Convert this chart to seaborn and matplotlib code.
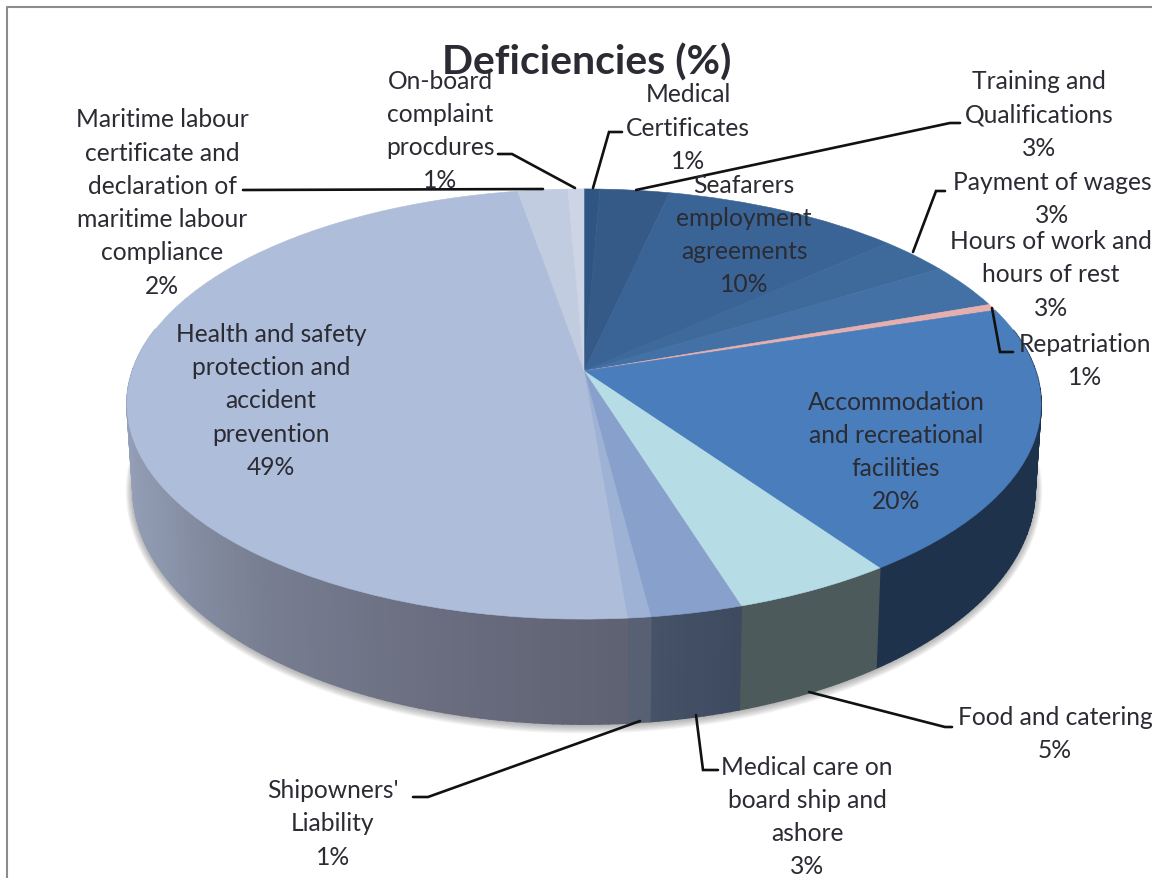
import numpy as np
import seaborn as sns
from matplotlib import pyplot as plt
from matplotlib.path import Path
from matplotlib.transforms import Transform

categories = ["Medical\nCertificates", "Training and\nQualifications",
              "Seafarers\nemployment\nagreements", "Payment of wages",
              "Hours of work and\nhours of rest", "Repatriation",
              "Accommodation\nand recreational\nfacilities", "Food and catering",
              "Medical care on\nboard ship and\nashore", "Shipowners'\nLiability",
              "Health and safety\nprotection and\naccident\nprevention",
              "Maritime labour\ncertificate and\ndeclaration of\nmaritime labour\ncompliance",
              "On-board\ncomplaint\nprocdures"]
values = [0.65, 2.85, 9.8, 2.9, 3.4, 0.5, 20.2, 4.9, 2.8, 0.7, 48.6, 2.05, 0.65]
percent_labels = ["1%", "3%", "10%", "3%", "3%", "1%", "20%", "5%", "3%", "1%", "49%", "2%", "1%"]
top_colors = ["#2F5583", "#355A87", "#3B6496", "#3E699B", "#4471A5", "#E6AFAF", "#4A7DBB",
              "#B6DCE6", "#87A1CC", "#9EB2D6", "#AEBDD9", "#C1CCE1", "#CDD4E6"]
# side wall colours, light (left) to dark (front) in the health wedge
wall_colors = [["#1F324B", "#1F324B"]] * 7 + [["#4D5A5C", "#4D5A5C"], ["#3E4A60", "#465268"],
                                              ["#586074", "#586074"]]
wall_colors += [["#5F6272", "#6A6E80", "#787E92", "#8B95AB", "#97A3BC", "#A3B0CF"],
                ["#A3B0CF", "#A3B0CF"], ["#A3B0CF", "#A3B0CF"]]

# label block centres in pixels
label_pos = [(688, 128), (1039, 115), (744, 235), (1052, 199), (1051, 275), (1085, 361),
             (896, 452), (1055, 734), (807, 817), (333, 824), (271, 401), (162, 203), (440, 131)]
leaders = [[(593, 189), (609, 133), (622, 133)],
           [(636, 191), (950, 124), (960, 124)],
           [(913, 253), (936, 192), (945, 192)],
           [(992, 309), (1000, 353), (1013, 353)],
           [(809, 693), (945, 728), (952, 728)],
           [(696, 716), (703, 771), (718, 771)],
           [(640, 722), (428, 798), (413, 798)],
           [(543, 190), (243, 191)],
           [(575, 189), (512, 155), (498, 155)]]

K = 0.1535
TOP = dict(cx=584, cy=372, a=451.6, b=210)
BOTTOM = dict(cx=584, cy=454, a=445.7, b=229.5)


def rim(theta, cx, cy, a, b):
    # unit circle to screen pixels, perspective so near side is bigger
    u, v = np.cos(theta), np.sin(theta)
    w = 1 + K * v
    return cx + a * u / w, cy - b * v / w


class PieTilt(Transform):
    input_dims = output_dims = 2
    has_inverse = False

    def transform_non_affine(self, values):
        u, v = values[:, 0], values[:, 1]
        w = 1 + K * v
        return np.column_stack([TOP["cx"] + TOP["a"] * u / w, TOP["cy"] - TOP["b"] * v / w])

    def transform_path_non_affine(self, path):
        return Path(self.transform_non_affine(path.vertices), path.codes)


sns.set_theme(style="white")
plt.rcParams["font.family"] = ["Lato", "DejaVu Sans"]
text_color = "#2B2B33"

fig, ax = plt.subplots(figsize=(11.52, 8.79), dpi=100)
fig.subplots_adjust(0, 0, 1, 1)

wedges, _ = ax.pie(values, colors=top_colors, startangle=90, counterclock=False,
                   wedgeprops=dict(linewidth=0.4))
ax.set_aspect("auto")
ax.set_xlim(0, 1152)
ax.set_ylim(879, 0)
ax.axis("off")

for i, wedge in enumerate(wedges):
    wedge.set_transform(PieTilt() + ax.transData)
    wedge.set_edgecolor(top_colors[i])
    wedge.set_zorder(5)
    wedge.set_clip_on(False)

# soft shadow under the bottom rim
all_theta = np.linspace(0, 2 * np.pi, 400)
for d in range(1, 8):
    sx, sy = rim(all_theta, BOTTOM["cx"], BOTTOM["cy"] + 1, BOTTOM["a"] + d, BOTTOM["b"] + d)
    ax.fill(sx, sy, color="#555555", alpha=0.07, lw=0, zorder=1)

# side wall, cut in small slices so the gradient shows
for i, wedge in enumerate(wedges):
    n = max(int(wedge.theta2 - wedge.theta1), 2)
    edges = np.radians(np.linspace(wedge.theta1, wedge.theta2, n + 1))
    # only slices on the near side, theta1 is the left end of the wedge on screen
    slices = [edges[j:j + 2] for j in range(n) if np.sin(edges[j:j + 2].mean()) <= 0.2]
    if not slices:
        continue
    palette = sns.blend_palette(wall_colors[i][::-1], len(slices))
    for t, c in zip(slices, palette):
        x0, y0 = rim(t, **TOP)
        x1, y1 = rim(t, **BOTTOM)
        ax.fill(np.r_[x0, x1[::-1]], np.r_[y0, y1[::-1]], color=c, lw=1.2, zorder=2)

for line in leaders:
    xs, ys = zip(*line)
    ax.plot(xs, ys, color="#111111", lw=1.9, solid_joinstyle="miter", zorder=6, clip_on=False)

for name, pct, (x, y) in zip(categories, percent_labels, label_pos):
    ax.text(x, y, name + "\n" + pct, ha="center", va="center", ma="center", fontsize=17.7,
            linespacing=1.54, color=text_color, zorder=7)

ax.text(587, 63, "Deficiencies (%)", ha="center", va="center", fontsize=29.5,
        fontweight="bold", color=text_color, zorder=7)

# chart frame, the crop cuts right and bottom off
ax.plot([7, 7, 1152], [879, 8, 8], color="#8C8C8C", lw=1.5, zorder=8, clip_on=False)

fig.savefig("out.png", dpi=100)
